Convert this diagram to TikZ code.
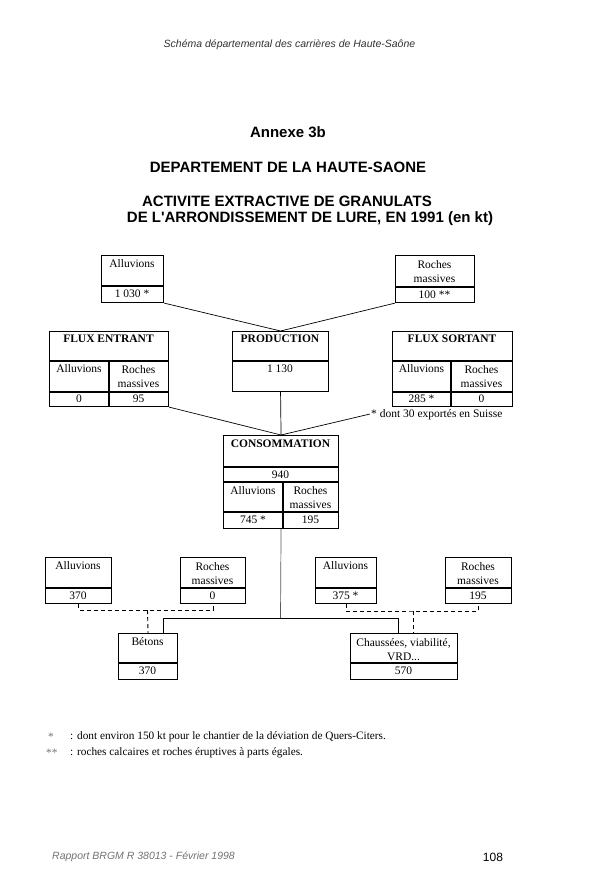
\documentclass[tikz,border=0pt]{standalone}
\usepackage{fontspec}
\setmainfont{Liberation Serif}
\newfontfamily\arialf{Liberation Sans}
\begin{document}
\begin{tikzpicture}[x=1pt,y=-1pt,
  boxst/.style={draw,line width=1.1pt,inner sep=0pt,anchor=north west},
  txt/.style={inner sep=0pt,font=\fontsize{11.5}{14}\selectfont,align=center},
  btxt/.style={inner sep=0pt,font=\fontsize{11.5}{14}\selectfont\bfseries},
  cell/.style={line width=1.1pt},
  conn/.style={line width=0.7pt},
  dconn/.style={line width=0.9pt,dash pattern=on 4pt off 3pt},
  ttl/.style={inner sep=0pt,font=\arialf\bfseries\fontsize{15}{17}\selectfont},
  fnote/.style={inner sep=0pt,anchor=west,font=\fontsize{11.3}{13}\selectfont}]
\path[use as bounding box,fill=white] (0,0) rectangle (600,889);

% headers
\node[inner sep=0pt,text=black!80,font=\arialf\itshape\fontsize{10.5}{12}\selectfont] (hdr) at (289.5,45) {Schéma départemental des carrières de Haute-Saône};
\node[ttl] (t1) at (288,132) {Annexe 3b};
\node[ttl] (t2) at (288,167) {DEPARTEMENT DE LA HAUTE-SAONE};
\node[ttl] (t3) at (287,201) {ACTIVITE EXTRACTIVE DE GRANULATS};
\node[ttl] (t4) at (310,219) {DE L'ARRONDISSEMENT DE LURE, EN 1991 (en kt)};

% top Alluvions
\node[boxst,minimum width=62pt,minimum height=47pt] (A1) at (101,255) {};
\draw[cell] (101,286) -- (163,286);
\node[txt] (A1t) at (132,264) {Alluvions};
\node[txt] (A1v) at (132,294) {1 030 *};

% top Roches
\node[boxst,minimum width=79pt,minimum height=47pt] (R1) at (395,255) {};
\draw[cell] (395,287) -- (474,287);
\node[txt] (R1t) at (434.5,272) {Roches\\massives};
\node[txt] (R1v) at (434.5,295) {100 **};

% PRODUCTION
\node[boxst,minimum width=96pt,minimum height=60pt] (PROD) at (232,331) {};
\draw[cell] (232,361) -- (328,361);
\node[btxt] (PRt) at (280,339) {PRODUCTION};
\node[txt] (PRv) at (280,369) {1 130};

% FLUX ENTRANT
\node[boxst,minimum width=119pt,minimum height=75pt] (FE) at (49,331) {};
\draw[cell] (49,361) -- (168,361) (49,392) -- (168,392) (109,361) -- (109,406);
\node[btxt] (FEt) at (108.5,339) {FLUX ENTRANT};
\node[txt] (FEa) at (79,369) {Alluvions};
\node[txt] (FEr) at (138.5,376.5) {Roches\\massives};
\node[txt] (FEav) at (79,399) {0};
\node[txt] (FErv) at (138.5,399) {95};

% FLUX SORTANT
\node[boxst,minimum width=120pt,minimum height=75pt] (FS) at (392,331) {};
\draw[cell] (392,361) -- (512,361) (392,392) -- (512,392) (451,361) -- (451,406);
\node[btxt] (FSt) at (452,339) {FLUX SORTANT};
\node[txt] (FSa) at (421.5,369) {Alluvions};
\node[txt] (FSr) at (481.5,376.5) {Roches\\massives};
\node[txt] (FSav) at (421.5,399) {285 *};
\node[txt] (FSrv) at (481.5,399) {0};
\node[txt,anchor=west] (note) at (371,415) {* dont 30 exportés en Suisse};

% CONSOMMATION
\node[boxst,minimum width=115pt,minimum height=93pt] (CONS) at (223,435) {};
\draw[cell] (223,467) -- (338,467) (223,482) -- (338,482) (223,512) -- (338,512) (283,482) -- (283,528);
\node[btxt] (COt) at (280.5,444) {CONSOMMATION};
\node[txt] (COv) at (280.5,475) {940};
\node[txt] (COa) at (253,491) {Alluvions};
\node[txt] (COr) at (310.5,498) {Roches\\massives};
\node[txt] (COav) at (253,520) {745 *};
\node[txt] (COrv) at (310.5,520) {195};

% bottom row
\node[boxst,minimum width=66pt,minimum height=46pt] (B1) at (45,557) {};
\draw[cell] (45,588) -- (111,588);
\node[txt] (B1t) at (78,566) {Alluvions};
\node[txt] (B1v) at (78,596) {370};

\node[boxst,minimum width=65pt,minimum height=46pt] (B2) at (180,557) {};
\draw[cell] (180,588) -- (245,588);
\node[txt] (B2t) at (212.5,573.5) {Roches\\massives};
\node[txt] (B2v) at (212.5,596) {0};

\node[boxst,minimum width=61pt,minimum height=46pt] (B3) at (315,557) {};
\draw[cell] (315,588) -- (376,588);
\node[txt] (B3t) at (345.5,566) {Alluvions};
\node[txt] (B3v) at (345.5,596) {375 *};

\node[boxst,minimum width=66pt,minimum height=46pt] (B4) at (445,557) {};
\draw[cell] (445,588) -- (511,588);
\node[txt] (B4t) at (478,573.5) {Roches\\massives};
\node[txt] (B4v) at (478,596) {195};

% usage boxes
\node[boxst,minimum width=59pt,minimum height=46pt] (BET) at (118,633) {};
\draw[cell] (118,663) -- (177,663);
\node[txt] (BEt) at (147.5,642) {Bétons};
\node[txt] (BEv) at (147.5,671) {370};

\node[boxst,minimum width=107pt,minimum height=46pt] (CHA) at (350,633) {};
\draw[cell] (350,663) -- (457,663);
\node[txt] (CHt) at (403.5,649.5) {Chaussées, viabilité,\\VRD...};
\node[txt] (CHv) at (403.5,671) {570};

% connectors
\draw[conn] (A1.south east) -- (PROD.north) -- (R1.south west);
\draw[conn] (FE.south east) -- (CONS.north) -- ([xshift=-1pt,yshift=1pt]note.west);
\draw[conn] (PROD.south) -- (CONS.north);
\coordinate (hub) at (280.5,618);
\coordinate (hl) at (163,618);
\coordinate (hr) at (398,618);
\draw[conn,black!65] (CONS.south) -- (hub);
\draw[conn] (BET.north -| hl) -- (hl) -- (hr) -- (CHA.north -| hr);

\coordinate (dl) at (147.5,610);
\draw[dconn] (B1.south) |- (dl) -| (B2.south);
\draw[dconn] (dl) -- (BET.north);
\coordinate (dr) at (413,611);
\draw[dconn] (B3.south) |- (dr) -| (B4.south);
\draw[dconn] (dr) -- (dr |- CHA.north);

% footnotes
\node[fnote,text=black!55] (s1) at (48,737) {*};
\node[fnote] (f1) at (70,737) {: dont environ 150 kt pour le chantier de la déviation de Quers-Citers.};
\node[fnote,text=black!55] (s2) at (46,753) {**};
\node[fnote] (f2) at (70,753) {: roches calcaires et roches éruptives à parts égales.};

% footer
\node[inner sep=0pt,anchor=west,text=black!55,font=\arialf\itshape\fontsize{10.5}{12}\selectfont] (ftr) at (52,857) {Rapport BRGM R 38013 - Février 1998};
\node[inner sep=0pt,font=\arialf\fontsize{12}{14}\selectfont] (pg) at (493,857) {108};
\end{tikzpicture}
\end{document}
